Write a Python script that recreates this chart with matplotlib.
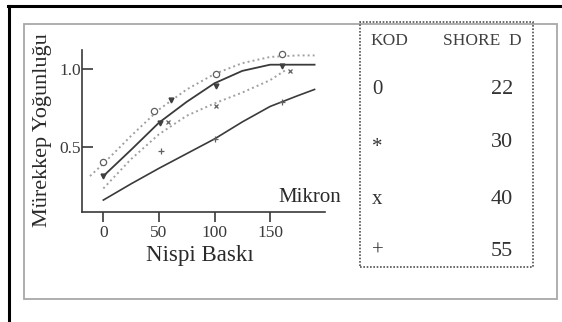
import matplotlib
matplotlib.use('Agg')
from matplotlib import pyplot as plt
from matplotlib.patches import Rectangle
from matplotlib.lines import Line2D

plt.rcParams['font.family'] = ['Liberation Serif', 'DejaVu Serif']

# curves (relative pressure in micron -> ink density)
curve22_x = [-12, 0, 25, 50, 75, 100, 125, 150, 175, 190]
curve22_y = [0.31, 0.39, 0.57, 0.74, 0.87, 0.97, 1.04, 1.08, 1.09, 1.09]
curve30_x = [0, 25, 50, 75, 100, 125, 150, 175, 190]
curve30_y = [0.31, 0.48, 0.655, 0.79, 0.91, 0.99, 1.03, 1.03, 1.03]
curve40_x = [0, 25, 50, 75, 100, 125, 150, 165]
curve40_y = [0.23, 0.42, 0.58, 0.70, 0.78, 0.85, 0.93, 1.0]
curve55_x = [0, 25, 50, 75, 100, 125, 150, 175, 190]
curve55_y = [0.155, 0.26, 0.36, 0.455, 0.55, 0.66, 0.76, 0.83, 0.87]

# measured points
pts22_x = [0, 46, 101, 161]
pts22_y = [0.40, 0.73, 0.97, 1.10]
pts30_x = [0, 51, 61, 101, 161]
pts30_y = [0.31, 0.655, 0.80, 0.89, 1.02]
pts40_x = [58, 101, 168]
pts40_y = [0.66, 0.76, 0.99]
pts55_x = [52, 100, 161]
pts55_y = [0.47, 0.55, 0.79]

xticks = [0, 50, 100, 150]
yticks = [0.5, 1.0]
ytick_labels = ['0.5', '1.0']

codes = ['0', '*', 'x', '+']
shore = ['22', '30', '40', '55']

W, H = 562, 322
fig = plt.figure(figsize=(W / 100, H / 100), dpi=100)

def fx(px):
    return px / W

def fy(py):
    return 1 - py / H

# outer frame: thick black top/left, thin grey box
fig.add_artist(Line2D([fx(8), 1], [fy(6), fy(6)], color='black', lw=2.2))
fig.add_artist(Line2D([fx(9), fx(9)], [0, fy(6)], color='black', lw=2.2))
fig.add_artist(Rectangle((fx(24), fy(299)), fx(557) - fx(24), fy(24) - fy(299),
                         fill=False, ec='#a8a8a8', lw=1.3))

ax = fig.add_axes([fx(82), fy(211.5), fx(325) - fx(82), fy(50) - fy(211.5)])
ax.set_xlim(-19.2, 199.4)
ax.set_ylim(0.081, 1.125)

dark = '#3a3a3a'
light = '#a0a0a0'
ax.plot(curve22_x, curve22_y, color=light, ls=(0, (1, 1.6)), lw=1.4)
ax.plot(curve30_x, curve30_y, color=dark, lw=1.3)
ax.plot(curve40_x, curve40_y, color=light, ls=(0, (1, 1.6)), lw=1.4)
ax.plot(curve55_x, curve55_y, color=dark, lw=1.2)

ax.plot(pts22_x, pts22_y, ls='none', marker='o', ms=4.5, mfc='white', mec='#606060', mew=0.9)
ax.plot(pts30_x, pts30_y, ls='none', marker='v', ms=3.5, color='#404040')
ax.plot(pts40_x, pts40_y, ls='none', marker='x', ms=3.5, color='#606060', mew=0.9)
ax.plot(pts55_x, pts55_y, ls='none', marker='+', ms=5, color='#606060', mew=0.9)

for s in ['top', 'right']:
    ax.spines[s].set_visible(False)
ax.spines['left'].set_color(dark)
ax.spines['bottom'].set_color(dark)
ax.spines['left'].set_linewidth(1.2)
ax.spines['bottom'].set_linewidth(1.2)

ax.set_xticks(xticks)
ax.set_yticks(yticks)
ax.set_yticklabels(ytick_labels)
ax.tick_params(axis='x', direction='out', length=7, width=1.2, colors=dark, labelsize=12.5, pad=3)
ax.tick_params(axis='y', direction='in', length=8, width=1.2, colors=dark, labelsize=12.5, pad=1)

fig.text(fx(43), fy(130), 'Mürekkep Yoğunluğu', rotation=90, ha='center', va='center',
         fontsize=16, color='#2a2a2a')
fig.text(fx(200), fy(256), 'Nispi Baskı', ha='center', va='center', fontsize=16.5, color='#2a2a2a')
fig.text(fx(341), fy(197), 'Mikron', ha='right', va='center', fontsize=15, color='#2a2a2a')

# legend table
fig.add_artist(Rectangle((fx(360), fy(267)), fx(533) - fx(360), fy(22) - fy(267),
                         fill=False, ec='#505050', lw=1.2, ls=(0, (1, 1))))
fig.text(fx(370), fy(41), 'KOD', ha='left', va='center', fontsize=12.5, color='#404040')
fig.text(fx(522), fy(41), 'SHORE  D', ha='right', va='center', fontsize=12.5, color='#404040')
rows_y = [90, 142, 199, 251]
for code, val, ry in zip(codes, shore, rows_y):
    cy = ry + 5 if code == '*' else ry
    fig.text(fx(372), fy(cy), code, ha='left', va='center', fontsize=15, color='#333333')
    fig.text(fx(513), fy(ry), val, ha='right', va='center', fontsize=16, color='#333333')

fig.savefig('out.png', dpi=100)
